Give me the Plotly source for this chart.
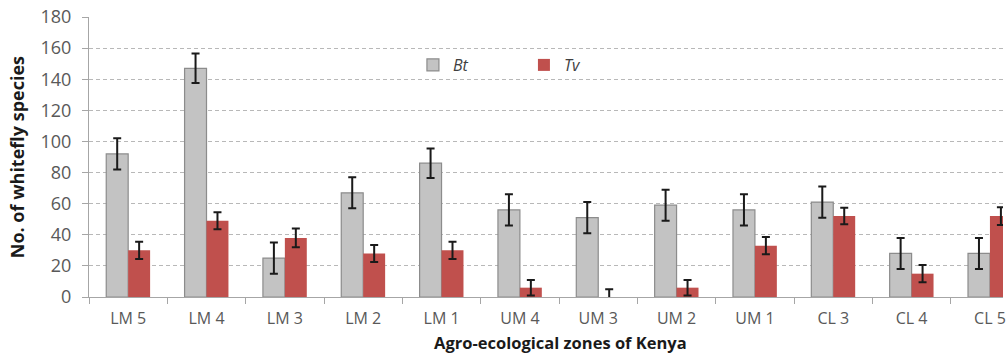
import plotly.graph_objects as go

zones = ["LM 5", "LM 4", "LM 3", "LM 2", "LM 1", "UM 4", "UM 3", "UM 2", "UM 1", "CL 3", "CL 4", "CL 5"]
bt_values = [92, 147, 25, 67, 86, 56, 51, 59, 56, 61, 28, 28]
bt_errors = [10, 9.5, 10, 10, 9.5, 10, 10, 10, 10, 10, 10, 10]
tv_values = [30, 49, 38, 28, 30, 6, 0, 6, 33, 52, 15, 52]
tv_errors = [5.5, 5.5, 6, 5.5, 5.5, 5, 5, 5, 5.5, 5.3, 5.5, 5.7]

W, H = 1006, 353
L, R, T, B = 89, 0, 17, 56

fig = go.Figure()
fig.add_trace(go.Bar(
    name="Bt", x=zones, y=bt_values,
    marker=dict(color="#c3c3c3", line=dict(color="#8c8c8c", width=1.2)),
    error_y=dict(type="data", array=bt_errors, color="#1a1a1a", thickness=2, width=4),
))
fig.add_trace(go.Bar(
    name="Tv", x=zones, y=tv_values,
    marker=dict(color="#c0504d", line=dict(width=0)),
    error_y=dict(type="data", array=tv_errors, color="#1a1a1a", thickness=2, width=4),
))

plot_w = W - L - R
plot_h = H - T - B
span = plot_w / 78.6

fig.update_layout(
    width=W, height=H,
    margin=dict(l=L, r=R, t=T, b=B, pad=0),
    paper_bgcolor="white", plot_bgcolor="white",
    barmode="group", bargap=0.44, bargroupgap=0,
    font=dict(family="Open Sans", color="#595959"),
    legend=dict(
        orientation="h", x=(414 - L) / plot_w, y=(297 - 65) / plot_h,
        xanchor="left", yanchor="middle",
        font=dict(size=16, color="#404040", style="italic"),
        bgcolor="rgba(0,0,0,0)",
        entrywidth=66, entrywidthmode="pixels",
        itemwidth=30,
    ),
    xaxis=dict(
        range=[-0.5, -0.5 + span],
        showline=True, linecolor="#a6a6a6", linewidth=1,
        ticks="outside", tickson="boundaries", ticklen=6, tickcolor="#a6a6a6",
        tickfont=dict(size=16, color="#595959"),
        ticklabelstandoff=7,
        showgrid=False,
    ),
    yaxis=dict(
        range=[0, 180], dtick=20,
        showline=True, linecolor="#a6a6a6", linewidth=1,
        ticks="outside", ticklen=6, tickcolor="#a6a6a6",
        tickfont=dict(size=18, color="#595959"),
        ticklabelstandoff=7,
        showgrid=True, gridcolor="#b8b8b8", griddash="4px,3px", gridwidth=1,
        zeroline=False,
    ),
    annotations=[
        dict(
            text="<b>Agro-ecological zones of Kenya</b>",
            xref="paper", yref="paper",
            x=(562 - L) / plot_w, y=(297 - 342) / plot_h,
            xanchor="center", yanchor="middle", showarrow=False,
            font=dict(size=16.5, color="#1a1a1a"),
        ),
        dict(
            text="<b>No. of whitefly species</b>",
            xref="paper", yref="paper",
            x=(17 - L) / plot_w, y=(297 - 157) / plot_h, textangle=-90,
            xanchor="center", yanchor="middle", showarrow=False,
            font=dict(size=18, color="#1a1a1a"),
        ),
    ],
)

fig.write_html("out.html", config={"displayModeBar": False},
               post_script="document.body.style.margin='0';")
